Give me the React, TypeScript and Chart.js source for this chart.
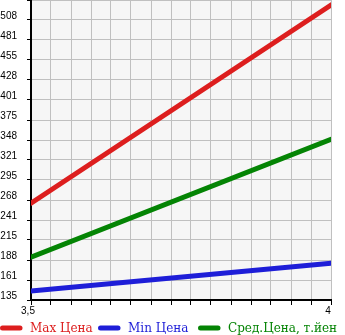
import React, { useEffect, useRef } from 'react';
import { Chart, registerables } from 'chart.js';

Chart.register(...registerables);

const xValues = [3.5, 4];
const maxPrice = [264, 528];
const minPrice = [147, 184];
const avgPrice = [192, 349];
const seriesNames = ['Max Цена', 'Min Цена', 'Сред.Цена, т.йен'];
const seriesColors = ['#dd1e1e', '#1e1ed8', '#048404'];
const yTickLabels = ['135', '161', '188', '215', '241', '268', '295', '321', '348', '375', '401', '428', '455', '481', '508'];
const xTickLabels = ['3,5', '4'];

const Y_MIN = 135;
const Y_STEP = (508 - 135) / 14;
const Y_MAX = Y_MIN + 15 * Y_STEP;
const X_MIN = 3.5;
const X_MAX = 4;
const X_DIVS = 15;

const legendX = [0, 98, 198];

const bgPlugin = {
  id: 'plotBg',
  beforeDraw(chart: any) {
    const { ctx, chartArea } = chart;
    ctx.save();
    ctx.fillStyle = '#f6f6f6';
    ctx.fillRect(chartArea.left, chartArea.top, chartArea.right - chartArea.left, chartArea.bottom - chartArea.top);
    ctx.restore();
  },
};

const legendPlugin = {
  id: 'customLegend',
  afterDraw(chart: any) {
    const { ctx } = chart;
    const y = 328;
    ctx.save();
    chart.data.datasets.forEach((ds: any, i: number) => {
      const x0 = legendX[i];
      ctx.strokeStyle = ds.borderColor;
      ctx.lineWidth = 5;
      ctx.lineCap = 'round';
      ctx.beginPath();
      ctx.moveTo(x0 + 2.5, y);
      ctx.lineTo(x0 + 20, y);
      ctx.stroke();
      ctx.fillStyle = ds.borderColor;
      ctx.font = '12px "DejaVu Serif"';
      ctx.textBaseline = 'middle';
      ctx.textAlign = 'left';
      ctx.fillText(ds.label, x0 + 30, y + 1);
    });
    ctx.restore();
  },
};

export default function App() {
  const ref = useRef<HTMLCanvasElement | null>(null);
  useEffect(() => {
    if (!ref.current) return;
    const mk = (data: number[]) => xValues.map((x, i) => ({ x, y: data[i] }));
    const chart = new Chart(ref.current, {
      type: 'line',
      data: {
        datasets: [maxPrice, minPrice, avgPrice].map((d, i) => ({
          label: seriesNames[i],
          data: mk(d),
          borderColor: seriesColors[i],
          backgroundColor: seriesColors[i],
          borderWidth: 5,
          borderCapStyle: 'round' as const,
          pointRadius: 0,
          tension: 0,
        })),
      },
      options: {
        animation: false,
        responsive: false,
        devicePixelRatio: 1,
        layout: { padding: { left: 0, right: 14, top: 0, bottom: 15 } },
        plugins: { legend: { display: false }, tooltip: { enabled: false } },
        scales: {
          x: {
            type: 'linear',
            min: X_MIN,
            max: X_MAX,
            afterBuildTicks(scale: any) {
              const t = [];
              for (let i = 0; i <= X_DIVS; i++) t.push({ value: X_MIN + (i * (X_MAX - X_MIN)) / X_DIVS });
              scale.ticks = t;
            },
            afterFit(scale: any) {
              scale.height = 20;
              scale.paddingLeft = 0;
              scale.paddingRight = 0;
            },
            ticks: {
              autoSkip: false,
              maxRotation: 0,
              minRotation: 0,
              padding: 0,
              labelOffset: -3,
              color: '#000',
              font: { family: '"Liberation Sans"', size: 10 },
              callback: (_v: any, i: number) => (i === 0 ? xTickLabels[0] : i === X_DIVS ? xTickLabels[1] : ''),
            },
            grid: { color: '#c0c0c0', tickColor: '#000', tickLength: 5, lineWidth: 1 },
            border: { color: '#000', width: 2 },
          },
          y: {
            type: 'linear',
            min: Y_MIN,
            max: Y_MAX,
            afterBuildTicks(scale: any) {
              const t = [];
              for (let i = 0; i <= 15; i++) t.push({ value: Y_MIN + i * Y_STEP });
              scale.ticks = t;
            },
            afterFit(scale: any) {
              scale.width = 31;
              scale.paddingTop = 0;
              scale.paddingBottom = 0;
            },
            ticks: {
              autoSkip: false,
              padding: 10,
              labelOffset: -4,
              color: '#000',
              font: { family: '"Liberation Sans"', size: 10 },
              callback: (_v: any, i: number) => yTickLabels[i] ?? '',
            },
            grid: { color: '#c0c0c0', tickColor: '#000', tickLength: 4, lineWidth: 1 },
            border: { color: '#000', width: 2 },
          },
        },
      },
      plugins: [bgPlugin, legendPlugin],
    });
    return () => chart.destroy();
  }, []);
  return (
    <div style={{ position: 'absolute', left: 0, top: 0, width: 345, height: 335 }}>
      <canvas ref={ref} width={345} height={335} />
    </div>
  );
}
